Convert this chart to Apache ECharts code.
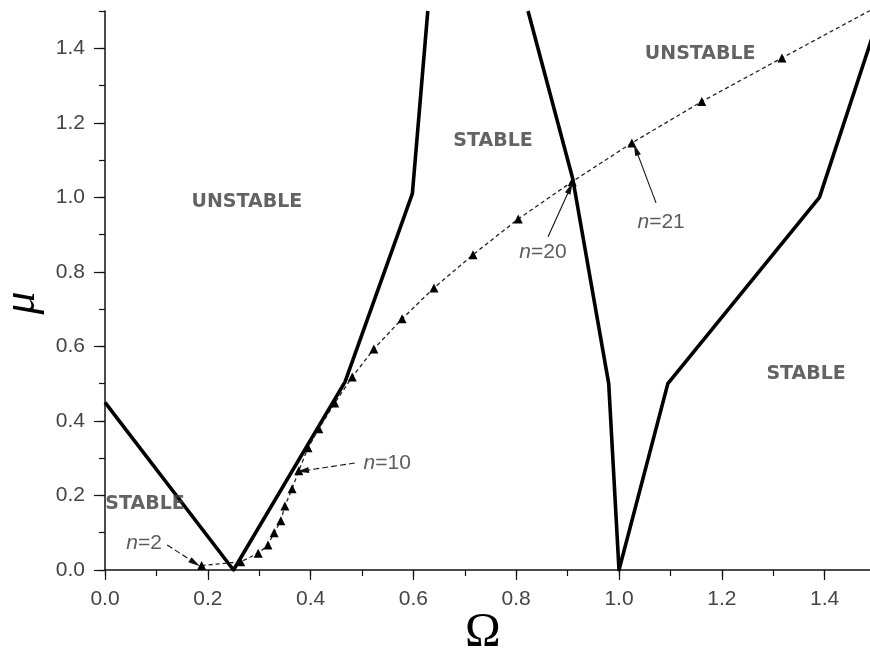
<!DOCTYPE html>
<html><head><meta charset="utf-8">
<script src="https://cdn.jsdelivr.net/npm/echarts@6/dist/echarts.min.js"></script>
<style>html,body{margin:0;padding:0;background:#fff}#c{width:870px;height:650px}</style>
</head><body><div id="c"></div>
<script>
// Stability boundaries (thick lines)
const boundaryLeftX  = [0.0, 0.25, 0.467, 0.598, 0.628];
const boundaryLeftY  = [0.45, 0.0, 0.505, 1.01, 1.5];
const boundaryRightX = [0.823, 0.91, 0.98, 1.0, 1.095, 1.39, 1.5];
const boundaryRightY = [1.5, 1.05, 0.5, 0.0, 0.5, 1.0, 1.46];
// Resonance points (dashed line with triangles), n = 2 ... 24
const resonanceN = [2,3,4,5,6,7,8,9,10,11,12,13,14,15,16,17,18,19,20,21,22,23,24];
const resonanceX = [0.188,0.264,0.298,0.317,0.329,0.342,0.350,0.364,0.377,0.395,0.416,0.447,0.481,0.523,0.578,0.640,0.716,0.804,0.909,1.025,1.161,1.317,1.5];
const resonanceY = [0.012,0.022,0.045,0.067,0.100,0.132,0.172,0.218,0.266,0.328,0.379,0.448,0.518,0.593,0.674,0.757,0.846,0.942,1.042,1.146,1.257,1.374,1.51];
// Tick labels
const tickLabels = ['0.0','0.2','0.4','0.6','0.8','1.0','1.2','1.4'];
// Region labels
const regionText = ['UNSTABLE','STABLE','UNSTABLE','STABLE','STABLE'];
const regionAtX  = [0.276, 0.755, 1.158, 1.364, 0.078];
const regionAtY  = [0.988, 1.152, 1.385, 0.526, 0.177];
// n-labels and their arrows
const nLabelN    = [2, 10, 20, 21];
const nLabelAtX  = [0.076, 0.549, 0.852, 1.082];
const nLabelAtY  = [0.072, 0.287, 0.854, 0.934];
const arrowFromX = [0.121, 0.486, 0.862, 1.072];
const arrowFromY = [0.067, 0.287, 0.894, 0.985];
const arrowToX   = [0.175, 0.385, 0.905, 1.033];
const arrowToY   = [0.019, 0.266, 1.025, 1.128];
const arrowDashed = [true, true, false, false];

const zip = (xs, ys) => xs.map((x, i) => [x, ys[i]]);
const chart = echarts.init(document.getElementById('c'), null, {renderer: 'canvas'});

const gridL = 105, gridT = 11, gridW = 771, gridH = 559;
const pxX = gridW / 1.5, pxY = gridH / 1.5;

const labelFont = {fontFamily: 'Liberation Sans', fontSize: 21, color: '#444'};

const option = {
  animation: false,
  backgroundColor: '#fff',
  grid: [
    {left: gridL, top: gridT, width: gridW, height: gridH, outerBoundsMode: 'none', containLabel: false},
    {left: gridL, top: gridT + 0.1 * pxY, width: 1.4 * pxX, height: 1.4 * pxY, outerBoundsMode: 'none', containLabel: false}
  ],
  xAxis: [
    {type: 'value', gridIndex: 0, min: 0, max: 1.5, interval: 0.1,
     axisLine: {show: true, onZero: false, lineStyle: {color: '#111', width: 1.5}},
     axisTick: {show: true, inside: false, length: 6, lineStyle: {color: '#111', width: 1.2}},
     axisLabel: {show: false}, splitLine: {show: false}},
    {type: 'value', gridIndex: 1, min: 0, max: 1.4, interval: 0.2,
     axisLine: {show: false, onZero: false},
     axisTick: {show: true, inside: false, length: 10, lineStyle: {color: '#111', width: 1.2}},
     axisLabel: Object.assign({show: true, margin: 19, formatter: (v) => tickLabels[Math.round(v / 0.2)] || ''}, labelFont),
     splitLine: {show: false}}
  ],
  yAxis: [
    {type: 'value', gridIndex: 0, min: 0, max: 1.5, interval: 0.1,
     axisLine: {show: true, onZero: false, lineStyle: {color: '#111', width: 1.5}},
     axisTick: {show: true, inside: false, length: 6, lineStyle: {color: '#111', width: 1.2}},
     axisLabel: {show: false}, splitLine: {show: false}},
    {type: 'value', gridIndex: 1, min: 0, max: 1.4, interval: 0.2,
     axisLine: {show: false, onZero: false},
     axisTick: {show: true, inside: false, length: 11, lineStyle: {color: '#111', width: 1.2}},
     axisLabel: Object.assign({show: true, margin: 20, formatter: (v) => tickLabels[Math.round(v / 0.2)] || ''}, labelFont),
     splitLine: {show: false}}
  ],
  series: [
    {type: 'line', name: 'boundary-left', xAxisIndex: 0, yAxisIndex: 0,
     data: zip(boundaryLeftX, boundaryLeftY), symbol: 'none', clip: true,
     lineStyle: {color: '#000', width: 3.6, join: 'round'}, z: 3},
    {type: 'line', name: 'boundary-right', xAxisIndex: 0, yAxisIndex: 0,
     data: zip(boundaryRightX, boundaryRightY), symbol: 'none', clip: true,
     lineStyle: {color: '#000', width: 3.6, join: 'round'}, z: 3},
    {type: 'line', name: 'resonances', xAxisIndex: 0, yAxisIndex: 0,
     data: zip(resonanceX, resonanceY), clip: true,
     symbol: 'triangle', symbolSize: 9, showAllSymbol: true,
     itemStyle: {color: '#000', borderWidth: 0},
     lineStyle: {color: '#222', width: 1.3, type: [4, 3]}, z: 4},
    {type: 'scatter', name: 'region-labels', xAxisIndex: 0, yAxisIndex: 0,
     data: regionText.map((t, i) => ({value: [regionAtX[i], regionAtY[i]], name: t})),
     symbolSize: 0, silent: true, z: 5,
     label: {show: true, position: 'inside', formatter: (p) => p.name,
       fontFamily: 'DejaVu Sans', fontWeight: 'bold', fontSize: 19, color: '#3c3c3c'}},
    {type: 'scatter', name: 'n-labels', xAxisIndex: 0, yAxisIndex: 0,
     data: nLabelN.map((n, i) => ({value: [nLabelAtX[i], nLabelAtY[i]], name: String(n)})),
     symbolSize: 0, silent: true, z: 5,
     label: {show: true, position: 'inside', formatter: (p) => '{i|n}{r|=' + p.name + '}',
       rich: {
         i: {fontFamily: 'Liberation Sans', fontStyle: 'italic', fontSize: 21, color: '#333'},
         r: {fontFamily: 'Liberation Sans', fontSize: 21, color: '#333'}
       }},
     markLine: {
       silent: true, animation: false, symbol: ['none', 'triangle'], symbolSize: [0, 8],
       label: {show: false},
       data: nLabelN.map((n, i) => [
         {coord: [arrowFromX[i], arrowFromY[i]], lineStyle: {color: '#111', width: 1.1, type: arrowDashed[i] ? [6, 3] : 'solid'}},
         {coord: [arrowToX[i], arrowToY[i]], symbolSize: [6, 12]}
       ])
     }}
  ],
  graphic: [
    {type: 'text', left: 465, top: 609, z: 10,
     style: {text: 'Ω', font: '48px "Liberation Serif"', fill: '#000'}},
    {type: 'text', x: 22, y: 303, rotation: Math.PI / 2, z: 10,
     style: {text: 'μ', font: 'italic 46px "Liberation Serif"', fill: '#000',
       align: 'center', verticalAlign: 'middle', textAlign: 'center', textVerticalAlign: 'middle'}}
  ]
};
chart.setOption(option);
</script>
</body></html>
